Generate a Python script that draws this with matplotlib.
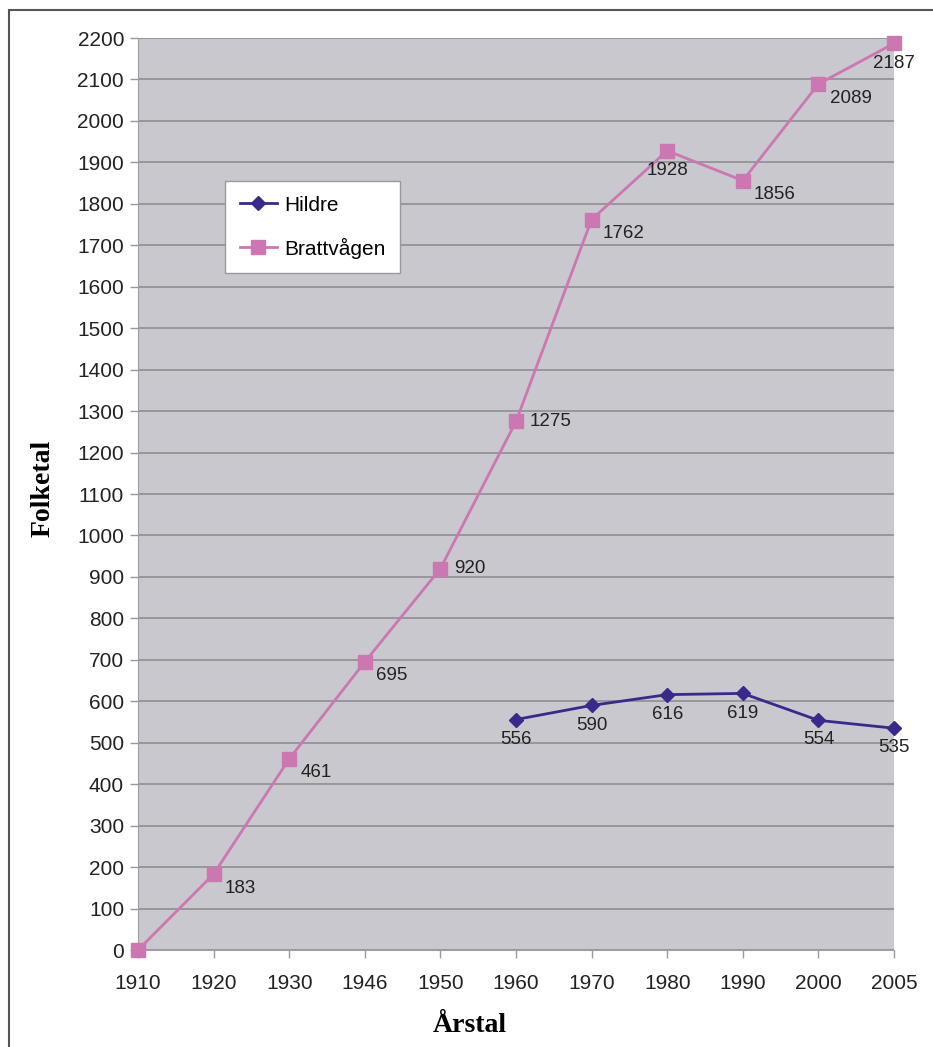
import matplotlib.pyplot as plt
from matplotlib.patches import Rectangle

years = ['1910', '1920', '1930', '1946', '1950', '1960', '1970', '1980', '1990', '2000', '2005']
brattvagen = [0, 183, 461, 695, 920, 1275, 1762, 1928, 1856, 2089, 2187]
hildre_years = ['1960', '1970', '1980', '1990', '2000', '2005']
hildre = [556, 590, 616, 619, 554, 535]

# where each Brattvågen label goes relative to its marker
b_pos = [None, 'rb', 'rb', 'rb', 'r', 'r', 'rb', 'b', 'rb', 'rb', 'b']

plt.rcParams['font.family'] = ['Liberation Sans', 'DejaVu Sans']

pink = '#CC77B2'
navy = '#382A88'

fig = plt.figure(figsize=(9.33, 10.47), dpi=100)
ax = fig.add_axes([138 / 933, 1 - 950 / 1047, (894 - 138) / 933, (950 - 38) / 1047])
ax.set_facecolor('#C9C8CE')

x = list(range(len(years)))
hx = [years.index(y) for y in hildre_years]

ax.plot(hx, hildre, color=navy, lw=2, marker='D', ms=7, label='Hildre', clip_on=False, zorder=3)
ax.plot(x, brattvagen, color=pink, lw=2, marker='s', ms=9.5, label='Brattvågen', clip_on=False, zorder=3)

for i, v in enumerate(brattvagen):
    p = b_pos[i]
    if p is None:
        continue
    if p == 'rb':
        off, ha, va = (8, -4), 'left', 'top'
    elif p == 'r':
        off, ha, va = (10, 0), 'left', 'center'
    else:
        off, ha, va = (0, -8), 'center', 'top'
    ax.annotate(str(v), (x[i], v), xytext=off, textcoords='offset points',
                ha=ha, va=va, fontsize=13.5, color='#222222', annotation_clip=False)

for i, v in zip(hx, hildre):
    ax.annotate(str(v), (i, v), xytext=(0, -8), textcoords='offset points',
                ha='center', va='top', fontsize=13.5, color='#222222', annotation_clip=False)

ax.set_xlim(0, len(years) - 1)
ax.set_ylim(0, 2200)
ax.set_xticks(x)
ax.set_xticklabels(years)
ax.set_yticks(range(0, 2201, 100))
ax.yaxis.grid(True, color='#8E8E92', lw=1.2)
ax.set_axisbelow(True)
ax.tick_params(axis='both', labelsize=15, colors='#222222', length=6, width=1)
ax.tick_params(axis='both', color='#999999')
ax.tick_params(axis='x', pad=11)
ax.tick_params(axis='y', pad=4)
for s in ['top', 'right']:
    ax.spines[s].set_visible(False)
for s in ['left', 'bottom']:
    ax.spines[s].set_color('#A0A0A0')

fig.text(470 / 933, 1 - 1025 / 1047, 'Årstal', family='Liberation Serif', fontweight='bold',
         fontsize=20, ha='center', va='center')
fig.text(43 / 933, 1 - 488 / 1047, 'Folketal', family='Liberation Serif', fontweight='bold',
         fontsize=20, ha='center', va='center', rotation=90)

leg = ax.legend(loc='upper left', bbox_to_anchor=((225 - 138) / 756, 1 - (181 - 38) / 912),
                fontsize=15, frameon=True, fancybox=False, edgecolor='#999999',
                framealpha=1, borderpad=0.7, labelspacing=1.1, handlelength=1.8,
                handletextpad=0.35, borderaxespad=0)
leg.get_frame().set_linewidth(1)

fig.patches.append(Rectangle((9 / 933, -0.1), 1.2, 1 - 10 / 1047 + 0.1, transform=fig.transFigure,
                             fill=False, edgecolor='#555555', lw=1.5, zorder=10))

fig.savefig('out.png', dpi=100)
